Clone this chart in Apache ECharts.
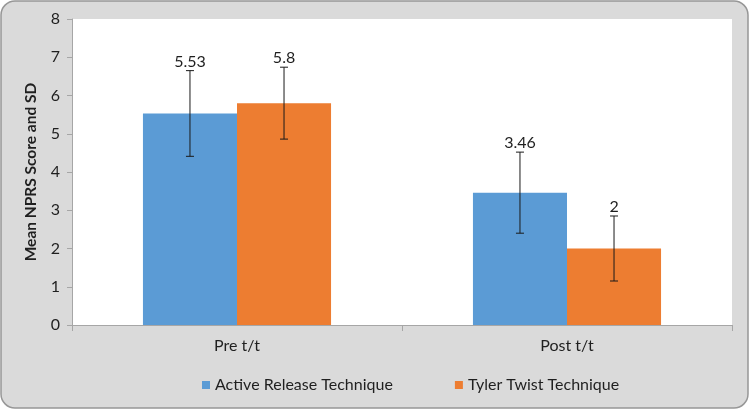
<!DOCTYPE html>
<html><head><meta charset="utf-8">
<script src="https://cdn.jsdelivr.net/npm/echarts@6/dist/echarts.min.js"></script>
<style>html,body{margin:0;padding:0;background:#fff}#c{width:750px;height:410px}</style>
</head><body><div id="c"></div>
<script>
var categories = ['Pre t/t', 'Post t/t'];
var seriesNames = ['Active Release Technique', 'Tyler Twist Technique'];
var artMean = [5.53, 3.46];
var artSD = [1.12, 1.06];
var ttMean = [5.8, 2];
var ttSD = [0.94, 0.85];
var yTicks = [0, 1, 2, 3, 4, 5, 6, 7, 8];

var FONT = 'Lato, "Open Sans", sans-serif';
var colors = ['#5b9bd5', '#ed7d31'];
var gapPct = 43;

function errSeries(means, sds, idx) {
  return {
    type: 'custom',
    name: seriesNames[idx] + ' SD',
    z: 5,
    data: means.map(function (m, i) { return [i, m, sds[i]]; }),
    renderItem: function (params, api) {
      var ci = api.value(0), m = api.value(1), sd = api.value(2);
      var band = api.size([1, 0])[0];
      var barW = band * (1 - gapPct / 100) / 2;
      var off = (idx === 0 ? -1 : 1) * barW / 2;
      var top = api.coord([ci, m + sd]);
      var bot = api.coord([ci, m - sd]);
      var x = top[0] + off;
      var cap = 4;
      var st = { stroke: '#1a1a1a', lineWidth: 1 };
      return {
        type: 'group',
        children: [
          { type: 'line', shape: { x1: x, y1: top[1], x2: x, y2: bot[1] }, style: st },
          { type: 'line', shape: { x1: x - cap, y1: top[1], x2: x + cap, y2: top[1] }, style: st },
          { type: 'line', shape: { x1: x - cap, y1: bot[1], x2: x + cap, y2: bot[1] }, style: st },
          { type: 'text', style: { text: String(m), x: x, y: top[1] - 1, textAlign: 'center', textVerticalAlign: 'bottom', fill: '#1f1f1f', font: '16px ' + FONT } }
        ]
      };
    }
  };
}

var chart = echarts.init(document.getElementById('c'));
chart.setOption({
  animation: false,
  backgroundColor: '#ffffff',
  graphic: [{
    type: 'rect', z: -10, silent: true,
    shape: { x: 1, y: 1, width: 747, height: 407, r: 14 },
    style: { fill: '#dadada', stroke: '#979797', lineWidth: 1.5 }
  }],
  grid: { left: 72, right: 18, top: 19, bottom: 85, show: true, backgroundColor: '#ffffff', borderWidth: 0 },
  legend: {
    data: seriesNames,
    top: 372, left: 197,
    itemWidth: 8, itemHeight: 8, itemGap: 62,
    icon: 'rect',
    textStyle: { fontSize: 16, color: '#1f1f1f', fontFamily: FONT }
  },
  xAxis: {
    type: 'category',
    data: categories,
    axisLine: { lineStyle: { color: '#a6a6a6' } },
    axisTick: { show: true, length: 6, lineStyle: { color: '#a6a6a6' } },
    axisLabel: { fontSize: 16, color: '#1f1f1f', fontFamily: FONT, margin: 13 }
  },
  yAxis: {
    type: 'value',
    min: yTicks[0], max: yTicks[yTicks.length - 1], interval: 1,
    name: 'Mean NPRS Score and SD',
    nameLocation: 'middle', nameGap: 33,
    nameTextStyle: { fontSize: 15.5, fontWeight: 'bold', color: '#1f1f1f', fontFamily: FONT },
    axisLine: { show: true, lineStyle: { color: '#a6a6a6' } },
    axisTick: { show: true, length: 5, lineStyle: { color: '#a6a6a6' } },
    splitLine: { show: false },
    axisLabel: { fontSize: 16, color: '#1f1f1f', fontFamily: FONT, margin: 12 }
  },
  series: [
    { type: 'bar', name: seriesNames[0], data: artMean, barGap: '0%', barCategoryGap: gapPct + '%', itemStyle: { color: colors[0] } },
    { type: 'bar', name: seriesNames[1], data: ttMean, barGap: '0%', barCategoryGap: gapPct + '%', itemStyle: { color: colors[1] } },
    errSeries(artMean, artSD, 0),
    errSeries(ttMean, ttSD, 1)
  ]
});
</script></body></html>
